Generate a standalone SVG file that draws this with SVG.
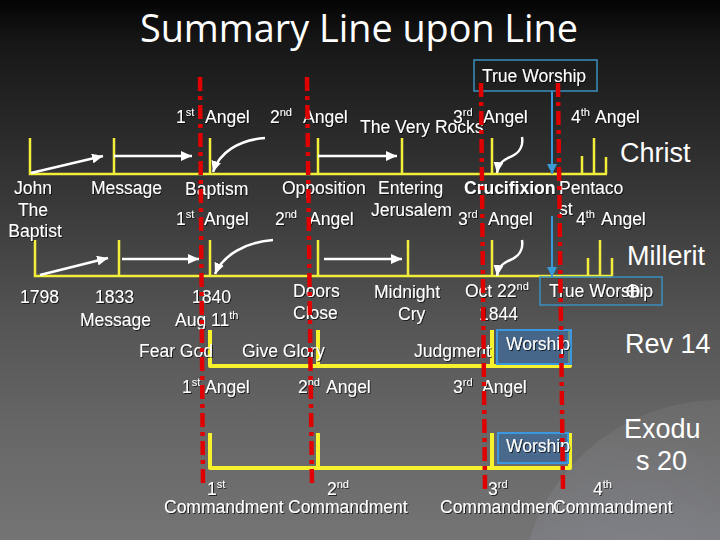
<svg xmlns="http://www.w3.org/2000/svg" width="720" height="540" viewBox="0 0 720 540">
<defs>
<linearGradient id="bg" x1="0" y1="0" x2="0" y2="1">
<stop offset="0" stop-color="#040404"/>
<stop offset="0.08" stop-color="#171717"/>
<stop offset="0.35" stop-color="#363636"/>
<stop offset="0.6" stop-color="#555555"/>
<stop offset="0.8" stop-color="#676767"/>
<stop offset="1" stop-color="#747474"/>
</linearGradient>
<radialGradient id="globe" cx="0.3" cy="0.65" r="0.75">
<stop offset="0" stop-color="#b4b8d4"/>
<stop offset="0.35" stop-color="#8a8c98"/>
<stop offset="0.8" stop-color="#737373"/>
<stop offset="1" stop-color="#6c6c6c"/>
</radialGradient>
<filter id="sh" x="-10%" y="-30%" width="120%" height="160%">
<feDropShadow dx="1" dy="1" stdDeviation="0.6" flood-color="#000000" flood-opacity="0.7"/>
</filter>
<marker id="wh" markerUnits="userSpaceOnUse" markerWidth="12" markerHeight="10" refX="11" refY="5" orient="auto">
<path d="M0,0 L11,5 L0,10 z" fill="#ffffff"/>
</marker>
<marker id="bh" markerUnits="userSpaceOnUse" markerWidth="12" markerHeight="10" refX="10" refY="5" orient="auto">
<path d="M0,0 L10,5 L0,10 z" fill="#3a9ad8"/>
</marker>
<style>
.t{font-family:"Liberation Sans",Arial,sans-serif;font-size:17.5px;fill:#ffffff;filter:url(#sh)}
.b{font-weight:bold}
.big{font-size:27px;filter:none}
.sup{font-size:11px}
.red{stroke:#e00000;stroke-width:4.5;stroke-dasharray:14 5 4 5;fill:none}
.yl{stroke:#f2ee3a;stroke-width:2.5;fill:none}
.yb{stroke:#f6f22c;stroke-width:4;fill:none;stroke-linejoin:round}
.wa{stroke:#ffffff;stroke-width:2.5;fill:none;marker-end:url(#wh)}
.ba{stroke:#3a9ad8;stroke-width:2;fill:none;marker-end:url(#bh)}
.box{fill:none;stroke:#3a8fbf;stroke-width:1.5}
.wbox{fill:#3f6a9a;fill-opacity:0.75;stroke:#3a98e0;stroke-width:2}
</style>
</defs>
<rect x="0" y="0" width="720" height="540" fill="url(#bg)"/>
<circle cx="720" cy="600" r="200" fill="url(#globe)" opacity="0.6"/>

<g id="title">
<text x="359" y="42" text-anchor="middle" font-family="'Open Sans','Noto Sans',sans-serif" font-size="39" fill="#ffffff" textLength="438" lengthAdjust="spacingAndGlyphs">Summary Line upon Line</text>
</g>

<g id="timelines">
<path class="yl" d="M30,138 V174 H607 M114,138 V174 M210,138 V174 M318,138 V174 M402,138 V174 M492,138 V174 M582,156 V174 M594,138 V174 M606,157 V174"/>
<path class="yl" d="M35,240 V276 H612 M119,240 V276 M210,240 V276 M318,240 V276 M408,240 V276 M492,240 V276 M588,258 V276 M600,240 V276 M612,258 V276"/>
<path class="yb" d="M210,330 V366 H570 V330 M318,330 V366 M492,330 V366"/>
<path class="yb" d="M210,433 V468 H570 V433 M318,433 V468 M492,433 V468"/>
</g>

<g id="true-worship-1">
<rect class="box" x="474" y="60" width="123" height="31"/>
<text class="t" x="482" y="82">True Worship</text>
</g>
<g id="true-worship-2">
<rect class="box" x="540" y="277" width="122" height="28"/>
<text class="t" x="549" y="297">True Worship</text>
<g stroke="#ffffff" stroke-width="1.5" fill="none">
<circle cx="633" cy="291" r="6"/>
<path d="M627,291 H639 M633,285 V297"/>
</g>
</g>
<g id="worship-3">
<rect class="wbox" x="497" y="330" width="74" height="34"/>
<text class="t" x="506" y="350">Worship</text>
</g>
<g id="worship-4">
<rect class="wbox" x="498" y="433" width="70" height="30"/>
<text class="t" x="506" y="452">Worship</text>
</g>

<g id="connectors">
<path class="wa" d="M31,173 L103,156"/>
<path class="wa" d="M114,156 H192"/>
<path class="wa" d="M318,156 H397"/>
<path class="wa" d="M265,138 C238,140 219,153 213,172"/>
<path class="wa" d="M522,137 C524,150 516,155 508,158 C500,162 498,166 497,173"/>
<path class="ba" d="M552,91 V174"/>
<path class="wa" d="M40,275 L108,258"/>
<path class="wa" d="M122,259 H199"/>
<path class="wa" d="M324,259 H402"/>
<path class="wa" d="M273,240 C246,242 223,255 215,274"/>
<path class="wa" d="M522,240 C524,253 516,258 508,261 C500,265 498,269 497,276"/>
<path class="ba" d="M552,216 V277"/>
</g>

<g id="labels-top">
<text class="t" x="176" y="123">1<tspan class="sup" dy="-7">st</tspan></text>
<text class="t" x="205" y="123">Angel</text>
<text class="t" x="270" y="123">2<tspan class="sup" dy="-7">nd</tspan></text>
<text class="t" x="303" y="123">Angel</text>
<text class="t" x="360" y="133">The Very Rocks</text>
<text class="t" x="453" y="123">3<tspan class="sup" dy="-7">rd</tspan></text>
<text class="t" x="483" y="123">Angel</text>
<text class="t" x="571" y="123">4<tspan class="sup" dy="-7">th</tspan></text>
<text class="t" x="595" y="123">Angel</text>
<text class="t big" x="620" y="162">Christ</text>
</g>

<g id="labels-row2">
<text class="t" x="33" y="194" text-anchor="middle">John</text>
<text class="t" x="33" y="216" text-anchor="middle">The</text>
<text class="t" x="35" y="237" text-anchor="middle">Baptist</text>
<text class="t" x="91" y="194">Message</text>
<text class="t" x="185" y="195">Baptism</text>
<text class="t" x="282" y="194">Opposition</text>
<text class="t" x="378" y="194">Entering</text>
<text class="t" x="371" y="216">Jerusalem</text>
<text class="t b" x="464" y="194">Crucifixion</text>
<text class="t" x="559" y="194">Pentaco</text>
<text class="t" x="559" y="215">st</text>
<text class="t" x="176" y="225">1<tspan class="sup" dy="-7">st</tspan></text>
<text class="t" x="204" y="225">Angel</text>
<text class="t" x="275" y="225">2<tspan class="sup" dy="-7">nd</tspan></text>
<text class="t" x="309" y="225">Angel</text>
<text class="t" x="458" y="225">3<tspan class="sup" dy="-7">rd</tspan></text>
<text class="t" x="488" y="225">Angel</text>
<text class="t" x="576" y="225">4<tspan class="sup" dy="-7">th</tspan></text>
<text class="t" x="601" y="225">Angel</text>
<text class="t big" x="627" y="265">Millerit</text>
</g>

<g id="labels-row3">
<text class="t" x="20" y="303">1798</text>
<text class="t" x="95" y="303">1833</text>
<text class="t" x="80" y="326">Message</text>
<text class="t" x="192" y="303">1840</text>
<text class="t" x="175" y="326">Aug 11<tspan class="sup" dy="-7">th</tspan></text>
<text class="t" x="293" y="297">Doors</text>
<text class="t" x="293" y="319">Close</text>
<text class="t" x="374" y="298">Midnight</text>
<text class="t" x="398" y="320">Cry</text>
<text class="t" x="465" y="297">Oct 22<tspan class="sup" dy="-7">nd</tspan></text>
<text class="t" x="479" y="320">1844</text>
</g>

<g id="labels-row4">
<text class="t" x="139" y="357">Fear God</text>
<text class="t" x="242" y="357">Give Glory</text>
<text class="t" x="414" y="357">Judgment</text>
<text class="t big" x="625" y="353">Rev 14</text>
<text class="t" x="182" y="393">1<tspan class="sup" dy="-7">st</tspan></text>
<text class="t" x="205" y="393">Angel</text>
<text class="t" x="298" y="393">2<tspan class="sup" dy="-7">nd</tspan></text>
<text class="t" x="326" y="393">Angel</text>
<text class="t" x="453" y="393">3<tspan class="sup" dy="-7">rd</tspan></text>
<text class="t" x="482" y="393">Angel</text>
</g>

<g id="labels-row5">
<text class="t big" x="624" y="438">Exodu</text>
<text class="t big" x="636" y="470">s 20</text>
<text class="t" x="207" y="495">1<tspan class="sup" dy="-7">st</tspan></text>
<text class="t" x="164" y="513">Commandment</text>
<text class="t" x="327" y="495">2<tspan class="sup" dy="-7">nd</tspan></text>
<text class="t" x="288" y="513">Commandment</text>
<text class="t" x="488" y="495">3<tspan class="sup" dy="-7">rd</tspan></text>
<text class="t" x="440" y="513">Commandment</text>
<text class="t" x="593" y="495">4<tspan class="sup" dy="-7">th</tspan></text>
<text class="t" x="553" y="513">Commandment</text>
</g>

<g id="dividers">
<path class="red" d="M200,77 L203,487"/>
<path class="red" d="M307,77 L312,487"/>
<path class="red" d="M481,83 L485,489"/>
<path class="red" d="M558,83 L563,489"/>
</g>
</svg>
